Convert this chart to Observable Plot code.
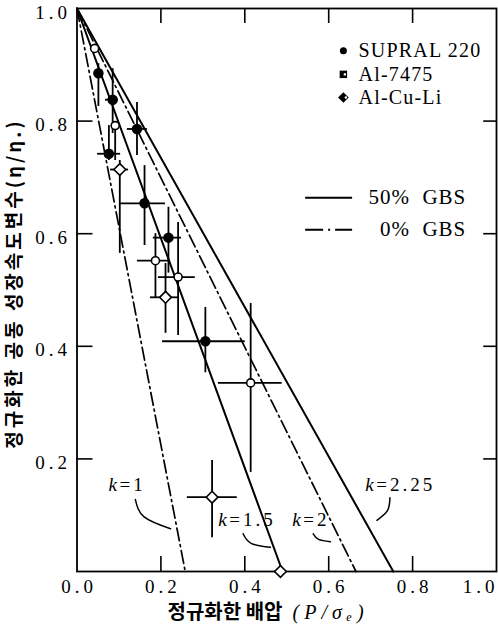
<!DOCTYPE html>
<html><head><meta charset="utf-8">
<script src="https://cdn.jsdelivr.net/npm/d3@7"></script>
<script src="https://cdn.jsdelivr.net/npm/@observablehq/plot@0.6"></script>
<style>
body{margin:0;background:#fff}
#chart svg{display:block}
</style></head><body><div id="chart"></div>
<script>
// ---- data ----
const seriesNames = ["SUPRAL 220", "Al-7475", "Al-Cu-Li"];

const supralX   = [0.051, 0.085, 0.143, 0.076, 0.161, 0.218, 0.306];
const supralY   = [0.885, 0.838, 0.786, 0.742, 0.654, 0.593, 0.409];
const supralXlo = [null,  0.068, 0.120, 0.049, 0.104, 0.182, 0.204];
const supralXhi = [null,  0.099, 0.168, 0.104, 0.211, 0.249, 0.401];
const supralYlo = [0.826, 0.778, 0.739, 0.730, 0.579, 0.530, 0.353];
const supralYhi = [0.902, 0.893, 0.833, 0.792, 0.721, 0.647, 0.469];

const al7475X   = [0.042, 0.091, 0.187, 0.241, 0.414];
const al7475Y   = [0.929, 0.792, 0.552, 0.523, 0.335];
const al7475Xlo = [null,  null,  0.144, 0.194, 0.337];
const al7475Xhi = [null,  null,  0.223, 0.282, 0.489];
const al7475Ylo = [null,  0.730, 0.485, 0.419, 0.176];
const al7475Yhi = [null,  0.796, 0.600, 0.620, 0.476];

const alculiX   = [0.102, 0.211, 0.322, 0.485];
const alculiY   = [0.714, 0.487, 0.132, 0.000];
const alculiXlo = [0.080, 0.175, 0.263, null];
const alculiXhi = [0.123, 0.244, 0.382, null];
const alculiYlo = [0.565, 0.423, 0.060, null];
const alculiYhi = [0.730, 0.547, 0.197, null];

const kValues     = ["1", "1.5", "2", "2.25"];
const kIntercepts = [0.258, 0.490, 0.665, 0.754];
const kGBS        = ["0% GBS", "50% GBS", "0% GBS", "50% GBS"];

const xTickValues = [0.2, 0.4, 0.6, 0.8];
const xTickLabels = ["0.0", "0.2", "0.4", "0.6", "0.8"];
const xTickLabelValues = [0, 0.2, 0.4, 0.6, 0.8];
const xLastLabel = "1.0";
const yTickValues = [0.2, 0.4, 0.6, 0.8];
const yTickLabels = ["0.2", "0.4", "0.6", "0.8", "1.0"];
const yTickLabelValues = [0.2, 0.4, 0.6, 0.8, 1.0];

const xLabelKo = "정규화한 배압";
const xLabelMath = "(P/σₑ)";
const yLabel = "정규화한 공동 성장속도변수(η/η.)";

// ---- build tables ----
const points = [];
function addSeries(name, xs, ys, xlo, xhi, ylo, yhi) {
  xs.forEach((x, i) => points.push({name, x, y: ys[i], xlo: xlo[i], xhi: xhi[i], ylo: ylo[i], yhi: yhi[i]}));
}
addSeries(seriesNames[0], supralX, supralY, supralXlo, supralXhi, supralYlo, supralYhi);
addSeries(seriesNames[1], al7475X, al7475Y, al7475Xlo, al7475Xhi, al7475Ylo, al7475Yhi);
addSeries(seriesNames[2], alculiX, alculiY, alculiXlo, alculiXhi, alculiYlo, alculiYhi);

const kLines = [];
kValues.forEach((k, i) => {
  kLines.push({k, gbs: kGBS[i], x: 0, y: 1});
  kLines.push({k, gbs: kGBS[i], x: kIntercepts[i], y: 0});
});

// ---- layout ----
const W = 498, H = 628, mL = 76.5, mR = 2, mT = 8, mB = 57;
const fw = W - mL - mR, fh = H - mT - mB;
const cx = mL + fw / 2, cy = mT + fh / 2;
const tickX = 15 / fh, tickYlen = 16 / fw;
const serif = "Liberation Serif, Times New Roman, serif";
const korean = "Noto Sans CJK KR, sans-serif";

const kLabelPos = [
  {k: "1",    x: 0.075, y: 0.153},
  {k: "1.5",  x: 0.337, y: 0.091},
  {k: "2",    x: 0.513, y: 0.091},
  {k: "2.25", x: 0.687, y: 0.153}
];
const leaders = [
  {k: "1",    pts: [[0.139, 0.128], [0.160, 0.097], [0.223, 0.076]]},
  {k: "1.5",  pts: [[0.396, 0.067], [0.415, 0.050], [0.461, 0.043]]},
  {k: "2",    pts: [[0.563, 0.067], [0.576, 0.057], [0.604, 0.053]]},
  {k: "2.25", pts: [[0.746, 0.131], [0.740, 0.108], [0.715, 0.091]]}
].flatMap(d => d.pts.map(([x, y]) => ({k: d.k, x, y})));

const legSymX = 0.635, legTxtX = 0.671, legY = [0.925, 0.883, 0.842];
const gbsX1 = 0.545, gbsX2 = 0.657, gbsTxtX = 0.928, gbsY = [0.664, 0.607];

const vBars = points.filter(d => d.ylo != null);
const hBars = points.filter(d => d.xlo != null);

const chart = Plot.plot({
  width: W, height: H,
  marginLeft: mL, marginRight: mR, marginTop: mT, marginBottom: mB,
  x: {domain: [0, 1], axis: null},
  y: {domain: [0, 1], axis: null},
  style: {fontFamily: serif, background: "#fff", color: "#000"},
  marks: [
    Plot.frame({stroke: "#000", strokeWidth: 1.8}),
    // inward ticks
    Plot.ruleX(xTickValues, {x: d => d, y1: 0, y2: tickX, stroke: "#000", strokeWidth: 1.6}),
    Plot.ruleX(xTickValues, {x: d => d, y1: 1, y2: 1 - tickX, stroke: "#000", strokeWidth: 1.6}),
    Plot.ruleY(yTickValues, {y: d => d, x1: 0, x2: tickYlen, stroke: "#000", strokeWidth: 1.6}),
    Plot.ruleY(yTickValues, {y: d => d, x1: 1, x2: 1 - tickYlen * 0.8, stroke: "#000", strokeWidth: 1.6}),
    // tick labels
    Plot.text(xTickLabelValues, {x: d => d, text: (d, i) => xTickLabels[i], frameAnchor: "bottom", textAnchor: "middle", dy: 15, dx: 2, fontSize: 19, fontFamily: serif, lineAnchor: "middle"}),
    Plot.text([1], {x: d => d, text: () => xLastLabel, frameAnchor: "bottom", textAnchor: "end", dy: 15, dx: 2, fontSize: 19, fontFamily: serif, lineAnchor: "middle"}),
    Plot.text(yTickLabelValues, {y: d => d, text: (d, i) => yTickLabels[i], frameAnchor: "left", textAnchor: "end", dx: -6, dy: 4, fontSize: 19, fontFamily: serif, lineAnchor: "middle"}),
    // axis labels
    Plot.text([xLabelKo], {text: d => d, frameAnchor: "bottom", textAnchor: "start", dx: 167 - cx, dy: 41, fontSize: 20, fontFamily: korean, fontWeight: "bold", lineAnchor: "middle"}),
    Plot.text([xLabelMath], {text: d => d, frameAnchor: "bottom", textAnchor: "start", dx: 292 - cx, dy: 41, fontSize: 20, fontFamily: serif, fontStyle: "italic", lineAnchor: "middle"}),
    Plot.text([yLabel], {text: d => d, frameAnchor: "left", textAnchor: "middle", rotate: -90, dx: 14 - mL, dy: 283 - cy, fontSize: 19, fontFamily: korean, fontWeight: "bold", lineAnchor: "middle"}),
    // model lines
    Plot.line(kLines.filter(d => d.gbs === "50% GBS"), {x: "x", y: "y", z: "k", stroke: "#000", strokeWidth: 2}),
    Plot.line(kLines.filter(d => d.gbs === "0% GBS"), {x: "x", y: "y", z: "k", stroke: "#000", strokeWidth: 1.7, strokeDasharray: "13,4,2,4"}),
    // leaders and k labels
    Plot.line(leaders, {x: "x", y: "y", z: "k", curve: "natural", stroke: "#000", strokeWidth: 1.5}),
    Plot.text(kLabelPos, {x: "x", y: "y", text: () => "k", textAnchor: "start", fontStyle: "italic", fontSize: 19, fontFamily: serif, lineAnchor: "middle"}),
    Plot.text(kLabelPos, {x: "x", y: "y", text: d => "=" + d.k, textAnchor: "start", dx: 11, fontSize: 19, fontFamily: serif, lineAnchor: "middle"}),
    // error bars
    Plot.ruleX(vBars, {x: "x", y1: "ylo", y2: "yhi", stroke: "#000", strokeWidth: 1.8}),
    Plot.ruleY(hBars, {y: "y", x1: "xlo", x2: "xhi", stroke: "#000", strokeWidth: 1.8}),
    // points
    Plot.dot(points.filter(d => d.name === "SUPRAL 220"), {x: "x", y: "y", r: 4.5, fill: "#000", stroke: "#000"}),
    Plot.dot(points.filter(d => d.name === "Al-7475"), {x: "x", y: "y", r: 4, fill: "#fff", stroke: "#000", strokeWidth: 1.6}),
    Plot.dot(points.filter(d => d.name === "Al-Cu-Li"), {x: "x", y: "y", r: 5.3, symbol: "diamond2", fill: "#fff", stroke: "#000", strokeWidth: 1.6}),
    // legend
    Plot.dot([seriesNames[0]], {x: () => legSymX, y: () => legY[0], r: 3.5, fill: "#000"}),
    Plot.dot([seriesNames[1]], {x: () => legSymX, y: () => legY[1], r: 4.2, symbol: "square", fill: "#000"}),
    Plot.dot([seriesNames[1]], {x: () => legSymX, y: () => legY[1], r: 1.3, symbol: "square", fill: "#fff", dx: 1.5}),
    Plot.dot([seriesNames[2]], {x: () => legSymX, y: () => legY[2], r: 4.8, symbol: "diamond2", fill: "#000"}),
    Plot.dot([seriesNames[2]], {x: () => legSymX, y: () => legY[2], r: 1.2, fill: "#fff", dx: 2.5}),
    Plot.text(seriesNames, {x: () => legTxtX, y: (d, i) => legY[i], text: d => d, textAnchor: "start", fontSize: 20, fontFamily: serif, lineAnchor: "middle"}),
    Plot.ruleY([gbsY[0]], {y: d => d, x1: gbsX1, x2: gbsX2, stroke: "#000", strokeWidth: 2}),
    Plot.ruleY([gbsY[1]], {y: d => d, x1: gbsX1, x2: gbsX2, stroke: "#000", strokeWidth: 2, strokeDasharray: "18,5,2,5"}),
    Plot.text(["50% GBS", "0% GBS"], {x: () => gbsTxtX, y: (d, i) => gbsY[i], text: d => d.replace(" ", "  "), textAnchor: "end", fontSize: 21, fontFamily: serif, lineAnchor: "middle"})
  ]
});

// typesetting details of the original: letter spacing
d3.select(chart).selectAll("text").each(function () {
  const t = this.textContent;
  if (/^\d\.\d$/.test(t)) this.style.letterSpacing = "4px";
  else if (t.startsWith("=")) this.style.letterSpacing = "3px";
  else if (t === yLabel) this.style.letterSpacing = "3px";
  else if (t === xLabelMath) this.style.letterSpacing = "5px";
  else if (seriesNames.includes(t)) this.style.letterSpacing = "1.2px";
  else if (t.includes("GBS")) this.style.letterSpacing = "1px";
});
document.getElementById("chart").appendChild(chart);
</script></body></html>
